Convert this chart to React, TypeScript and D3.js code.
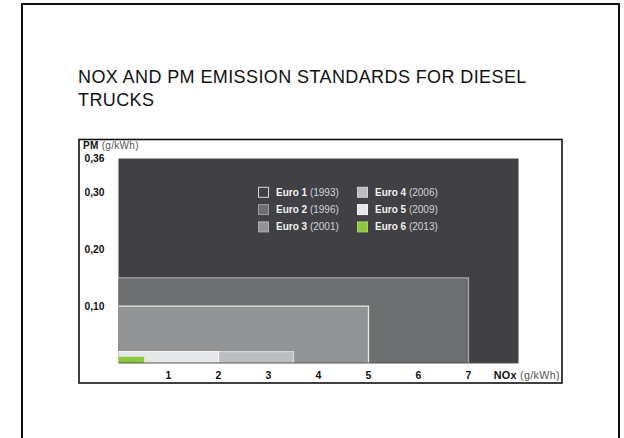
import React, { useEffect, useRef } from 'react';
import * as d3 from 'd3';

// Euro standards for diesel trucks: NOx (g/kWh) vs PM (g/kWh)
const standards = ['Euro 1', 'Euro 2', 'Euro 3', 'Euro 4', 'Euro 5', 'Euro 6'];
const years = ['1993', '1996', '2001', '2006', '2009', '2013'];
const noxLimits = [8.0, 7.0, 5.0, 3.5, 2.0, 0.5];
const pmLimits = [0.36, 0.15, 0.1, 0.02, 0.02, 0.01];
const fills = ['#414045', '#6d6e70', '#939496', '#bcbdbf', '#e6e7e8', '#8dc63f'];
const edges = ['#414045', '#a9aaac', '#e8e8e8', '#d4d5d6', '#f4f4f4', '#8dc63f'];
const legendEdges = ['#d8d8d8', '#9a9b9d', '#b0b1b3', '#d0d1d2', '#f4f4f4', '#a6d46a'];

const xTicks = [1, 2, 3, 4, 5, 6, 7];
const yTicks = [0.1, 0.2, 0.3, 0.36];

const FONT = '"Liberation Sans", Arial, Helvetica, sans-serif';

export default function App() {
  const svgRef = useRef<SVGSVGElement>(null);

  useEffect(() => {
    if (!svgRef.current) return;
    const svg = d3.select(svgRef.current);
    svg.selectAll('*').remove();

    // outer page frame
    svg.append('rect')
      .attr('x', 22).attr('y', 4)
      .attr('width', 597).attr('height', 480)
      .attr('fill', 'white')
      .attr('stroke', '#111').attr('stroke-width', 2);

    // title
    const title = svg.append('text')
      .attr('x', 78).attr('y', 83)
      .attr('font-family', FONT)
      .attr('font-size', 18)
      .attr('letter-spacing', 0.4)
      .attr('fill', '#111');
    title.append('tspan').attr('x', 78).attr('dy', 0).text('NOX AND PM EMISSION STANDARDS FOR DIESEL');
    title.append('tspan').attr('x', 78).attr('dy', 22.5).text('TRUCKS');

    // chart frame
    svg.append('rect')
      .attr('x', 79).attr('y', 139.5)
      .attr('width', 483).attr('height', 243.5)
      .attr('fill', 'white')
      .attr('stroke', '#111').attr('stroke-width', 1.6);

    const x = d3.scaleLinear().domain([0, 8]).range([118.5, 518.5]);
    const y = d3.scaleLinear().domain([0, 0.36]).range([363, 158.5]);

    const g = svg.append('g');

    const data = standards.map((s, i) => ({
      name: s, year: years[i], nox: noxLimits[i], pm: pmLimits[i], fill: fills[i], edge: edges[i]
    }));

    g.selectAll('rect.std')
      .data(data)
      .enter()
      .append('rect')
      .attr('class', 'std')
      .attr('x', x(0))
      .attr('y', d => y(d.pm))
      .attr('width', d => x(d.nox) - x(0))
      .attr('height', d => y(0) - y(d.pm))
      .attr('fill', d => d.fill);

    // light edges along top and right of each standard
    data.slice(1).forEach(d => {
      g.append('path')
        .attr('d', `M${x(0)},${y(d.pm)}H${x(d.nox)}V${y(0)}`)
        .attr('fill', 'none')
        .attr('stroke', d.edge)
        .attr('stroke-width', 1.3);
    });

    // baseline
    g.append('line')
      .attr('x1', x(0)).attr('x2', x(8))
      .attr('y1', y(0)).attr('y2', y(0))
      .attr('stroke', '#555').attr('stroke-width', 1);

    // y axis labels
    g.selectAll('text.ytick')
      .data(yTicks)
      .enter()
      .append('text')
      .attr('class', 'ytick')
      .attr('x', 84.5)
      .attr('y', d => y(d))
      .attr('dy', '0.35em')
      .attr('font-family', FONT)
      .attr('font-size', 10.3)
      .attr('font-weight', 'bold')
      .attr('fill', '#111')
      .text(d => d3.format('.2f')(d).replace('.', ','));

    // x axis labels
    g.selectAll('text.xtick')
      .data(xTicks)
      .enter()
      .append('text')
      .attr('class', 'xtick')
      .attr('x', d => x(d))
      .attr('y', 375.5)
      .attr('dy', '0.35em')
      .attr('text-anchor', 'middle')
      .attr('font-family', FONT)
      .attr('font-size', 10.5)
      .attr('font-weight', 'bold')
      .attr('fill', '#111')
      .text(d => d);

    // axis titles
    const pmTitle = g.append('text')
      .attr('x', 83).attr('y', 149)
      .attr('font-family', FONT).attr('font-size', 10).attr('letter-spacing', 0.3).attr('fill', '#111');
    pmTitle.append('tspan').attr('font-weight', 'bold').text('PM');
    pmTitle.append('tspan').attr('fill', '#555').text(' (g/kWh)');

    const noxTitle = g.append('text')
      .attr('x', 560).attr('y', 375.5).attr('dy', '0.35em')
      .attr('text-anchor', 'end')
      .attr('font-family', FONT).attr('font-size', 10.8).attr('letter-spacing', 0.3).attr('fill', '#111');
    noxTitle.append('tspan').attr('font-weight', 'bold').text('NOx');
    noxTitle.append('tspan').attr('fill', '#555').text(' (g/kWh)');

    // legend
    const legend = g.append('g');
    data.forEach((d, i) => {
      const col = Math.floor(i / 3);
      const row = i % 3;
      const lx = 258.5 + col * 99;
      const ly = 192.3 + row * 17.3;
      legend.append('rect')
        .attr('x', lx).attr('y', ly - 5)
        .attr('width', 10).attr('height', 10)
        .attr('fill', d.fill)
        .attr('stroke', legendEdges[i]).attr('stroke-width', 1);
      const t = legend.append('text')
        .attr('x', lx + 17.5).attr('y', ly).attr('dy', '0.35em')
        .attr('font-family', FONT).attr('font-size', 10);
      t.append('tspan').attr('font-weight', 'bold').attr('fill', '#f2f2f2').text(d.name);
      t.append('tspan').attr('fill', '#d2d2d4').text(` (${d.year})`);
    });
  }, []);

  return (
    <svg
      ref={svgRef}
      width={624}
      height={438}
      style={{ position: 'absolute', left: 0, top: 0, display: 'block', background: 'white' }}
    />
  );
}
